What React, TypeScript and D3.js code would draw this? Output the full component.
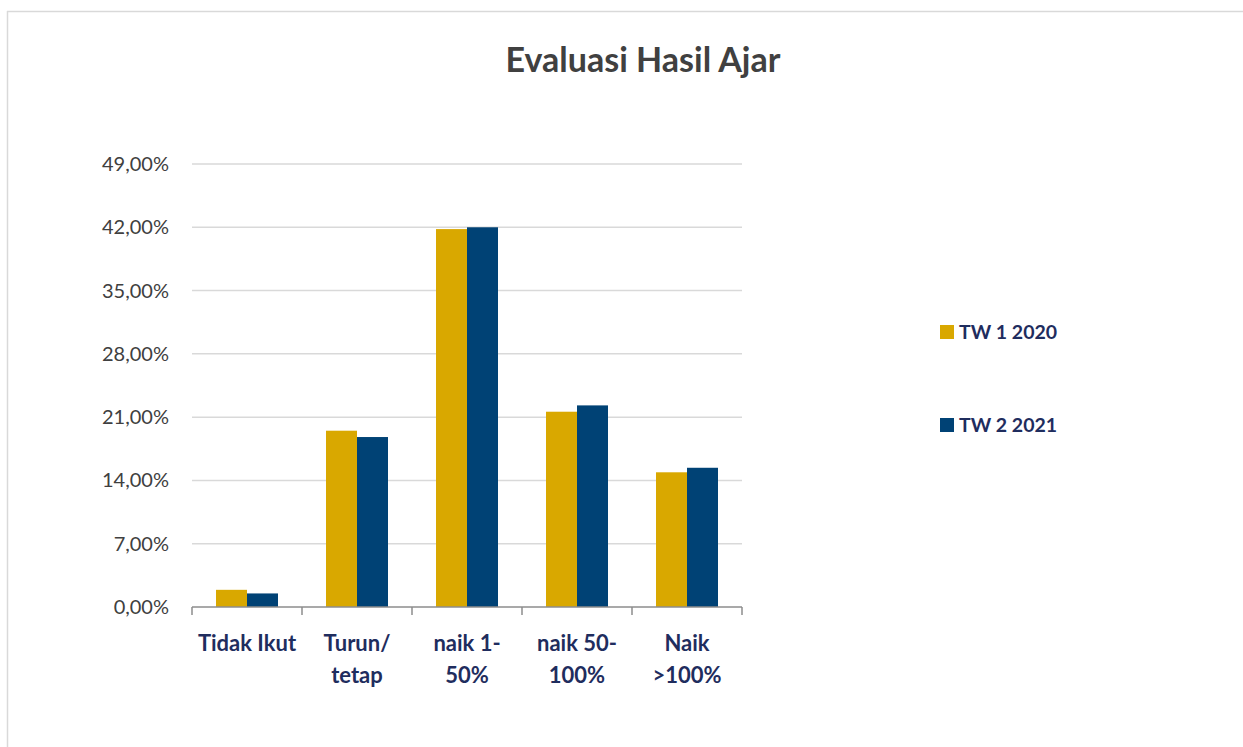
import React from "react";
import * as d3 from "d3";

const categories = [["Tidak Ikut"], ["Turun/", "tetap"], ["naik 1-", "50%"], ["naik 50-", "100%"], ["Naik", ">100%"]];
const seriesNames = ["TW 1 2020", "TW 2 2021"];
const tw1_2020 = [1.9, 19.5, 41.8, 21.6, 14.9];
const tw2_2021 = [1.5, 18.8, 42.0, 22.3, 15.4];
const yTicks = [0, 7, 14, 21, 28, 35, 42, 49];
const colors = ["#D9A800", "#004275"];

export default function App() {
  const W = 1243, H = 747;
  const left = 192, right = 742, top = 164, bottom = 607;
  const x = d3.scaleBand<number>().domain(d3.range(categories.length)).range([left, right]);
  const y = d3.scaleLinear().domain([0, 49]).range([bottom, top]);
  const series = [tw1_2020, tw2_2021];
  const bw = x.bandwidth();
  const barW = 31;
  const off = (bw - barW * 2) / 2;
  const fmt = (v: number) => v.toFixed(2).replace(".", ",") + "%";
  const font = "Lato, 'Open Sans', sans-serif";
  return (
    <svg width={W} height={H} style={{ position: "absolute", left: 0, top: 0, display: "block" }}>
      <rect x={0} y={0} width={W} height={H} fill="#fff" />
      <line x1={7.5} y1={11} x2={7.5} y2={H} stroke="#d9d9d9" strokeWidth={1.5} />
      <line x1={7} y1={11.5} x2={W} y2={11.5} stroke="#d9d9d9" strokeWidth={1.5} />
      <text x={643} y={72} textAnchor="middle" fontFamily={font} fontWeight="bold" fontSize={34} fill="#404040">Evaluasi Hasil Ajar</text>
      {yTicks.map((t) => (
        <g key={t}>
          {t > 0 && <line x1={left} x2={right} y1={y(t)} y2={y(t)} stroke="#d9d9d9" strokeWidth={1.5} />}
          <text x={169} y={y(t) + 7} textAnchor="end" fontFamily={font} fontSize={20} fill="#404040">{fmt(t)}</text>
        </g>
      ))}
      {series.map((s, si) =>
        s.map((v, i) => (
          <rect key={si + "-" + i} x={(x(i) as number) + off + si * barW} y={y(v)} width={barW} height={y(0) - y(v)} fill={colors[si]} />
        ))
      )}
      <line x1={left} x2={right} y1={bottom} y2={bottom} stroke="#8c8c8c" strokeWidth={1.5} />
      {d3.range(categories.length + 1).map((i) => {
        const xx = i < categories.length ? (x(i) as number) : right;
        return <line key={i} x1={xx} x2={xx} y1={bottom} y2={bottom + 8} stroke="#8c8c8c" strokeWidth={1.5} />;
      })}
      {categories.map((lines, i) => (
        <text key={i} textAnchor="middle" fontFamily={font} fontWeight="bold" fontSize={22} fill="#1F2D5E">
          {lines.map((l, j) => (
            <tspan key={j} x={(x(i) as number) + bw / 2} y={651 + j * 32}>{l}</tspan>
          ))}
        </text>
      ))}
      {seriesNames.map((n, i) => (
        <g key={n}>
          <rect x={940} y={325 + i * 93} width={14} height={14} fill={colors[i]} />
          <text x={959} y={339 + i * 93} fontFamily={font} fontWeight="bold" fontSize={19.5} fill="#1F2D5E">{n}</text>
        </g>
      ))}
    </svg>
  );
}
